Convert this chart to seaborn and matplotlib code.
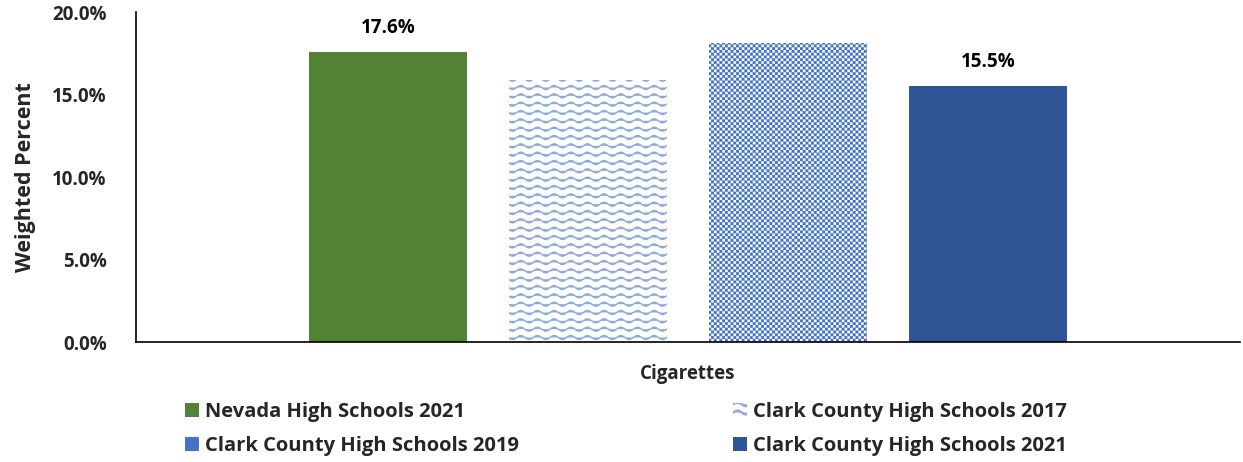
import numpy as np
import pandas as pd
import matplotlib
matplotlib.use("Agg")
import matplotlib.pyplot as plt
import matplotlib.hatch as mhatch
from matplotlib.path import Path
from matplotlib.patches import Patch
from matplotlib.ticker import FuncFormatter
import seaborn as sns

# ---- data ----
category = ["Cigarettes"]
series = ["Nevada High Schools 2021", "Clark County High Schools 2017",
          "Clark County High Schools 2019", "Clark County High Schools 2021"]
values = [17.6, 15.9, 18.1, 15.5]
labelled = [True, False, False, True]
yticks = [0, 5, 10, 15, 20]


# ---- custom hatches: waves (~) and checkerboard (#) ----
class WaveHatch(mhatch.HatchPatternBase):
    def __init__(self, hatch, density):
        self.n = hatch.count('~') * 4
        self.pts = 96
        self.num_vertices = self.n * (self.pts + 1) if self.n else 0

    def set_vertices_and_codes(self, vertices, codes):
        cycles = self.n // 2
        x = np.linspace(0, 1, self.pts + 1)
        amp = 0.24 / self.n
        k = 0
        for r in range(self.n):
            y0 = (r + 0.5) / self.n
            y = y0 + amp * np.sin(2 * np.pi * cycles * x)
            vertices[k:k + self.pts + 1, 0] = x
            vertices[k:k + self.pts + 1, 1] = y
            codes[k] = Path.MOVETO
            codes[k + 1:k + self.pts + 1] = Path.LINETO
            k += self.pts + 1


class CheckerHatch(mhatch.HatchPatternBase):
    def __init__(self, hatch, density):
        self.n = hatch.count('#') * 36
        self.cells = [(i, j) for i in range(self.n) for j in range(self.n) if (i + j) % 2 == 0] if self.n else []
        self.num_vertices = len(self.cells) * 5

    def set_vertices_and_codes(self, vertices, codes):
        s = 1.0 / self.n
        k = 0
        for (i, j) in self.cells:
            x0, y0 = i * s, j * s
            vertices[k:k + 5] = [(x0, y0), (x0 + s, y0), (x0 + s, y0 + s), (x0, y0 + s), (x0, y0)]
            codes[k] = Path.MOVETO
            codes[k + 1:k + 4] = Path.LINETO
            codes[k + 4] = Path.CLOSEPOLY
            k += 5


mhatch._hatch_types.append(WaveHatch)
mhatch._hatch_types.append(CheckerHatch)

sns.set_theme(style="white")
FONT = ["Open Sans", "DejaVu Sans"]
plt.rcParams["font.family"] = FONT
plt.rcParams["font.weight"] = "bold"
plt.rcParams["hatch.linewidth"] = 1.6

green = "#548235"
navy = "#2f5597"
wave = "#8eaadb"
check = "#4472c4"
FS = 13.5

df = pd.DataFrame({"cat": category * len(series), "series": series, "value": values})

fig = plt.figure(figsize=(12.43, 4.62), dpi=100)
ax = fig.add_axes([0.1094, 0.2597, 0.8882, 0.7143])

sns.barplot(data=df, x="cat", y="value", hue="series", hue_order=series,
            palette=[green, "white", "white", navy], width=0.725, gap=0.21,
            legend=False, ax=ax, saturation=1, edgecolor="none", linewidth=0)

bars = ax.patches
styles = [(green, None, None, 0), ("white", "~~~", wave, 1.0),
          ("white", "#", check, 0.1), (navy, None, None, 0)]
for b, (fc, h, hc, hlw) in zip(bars, styles):
    b.set_facecolor(fc)
    if h:
        b.set_hatch(h)
        b.set_edgecolor(hc)
        b.set_linewidth(0)
        b._hatch_color = matplotlib.colors.to_rgba(hc)
        b._hatch_linewidth = hlw

for b, v, lab in zip(bars, values, labelled):
    if lab:
        ax.annotate(f"{v:.1f}%", (b.get_x() + b.get_width() / 2, v),
                    xytext=(0, 10), textcoords="offset points",
                    ha="center", va="bottom", fontsize=FS, fontweight="bold", color="black")

ax.set_ylim(0, 20)
ax.set_yticks(yticks)
ax.yaxis.set_major_formatter(FuncFormatter(lambda v, p: f"{v:.1f}%"))
ax.tick_params(axis="y", labelsize=FS, length=0, pad=21)
ax.tick_params(axis="x", length=0, labelbottom=False)
for lbl in ax.get_yticklabels():
    lbl.set_fontweight("bold")
ax.set_xlabel("Cigarettes", fontsize=FS, fontweight="bold", labelpad=16)
ax.set_ylabel("Weighted Percent", fontsize=15.5, fontweight="bold", labelpad=12)
for s in ["top", "right"]:
    ax.spines[s].set_visible(False)
for s in ["left", "bottom"]:
    ax.spines[s].set_color("black")
    ax.spines[s].set_linewidth(1.2)
ax.grid(False)

handles = []
for (fc, h, hc, hlw), name in zip(styles, series):
    p = Patch(facecolor=fc, hatch=h, edgecolor=hc if hc else fc, linewidth=0, label=name)
    if h:
        p._hatch_linewidth = hlw
    handles.append(p)
order = [0, 2, 1, 3]
leg = fig.legend([handles[i] for i in order], [series[i] for i in order],
                 ncol=2, loc="upper left", bbox_to_anchor=(0.134, 0.169),
                 frameon=False, handlelength=0.72, handleheight=0.72,
                 handletextpad=0.3, columnspacing=10.6, labelspacing=0.68,
                 prop={"weight": "bold", "size": 14.5})

fig.savefig("out.png", dpi=100)
